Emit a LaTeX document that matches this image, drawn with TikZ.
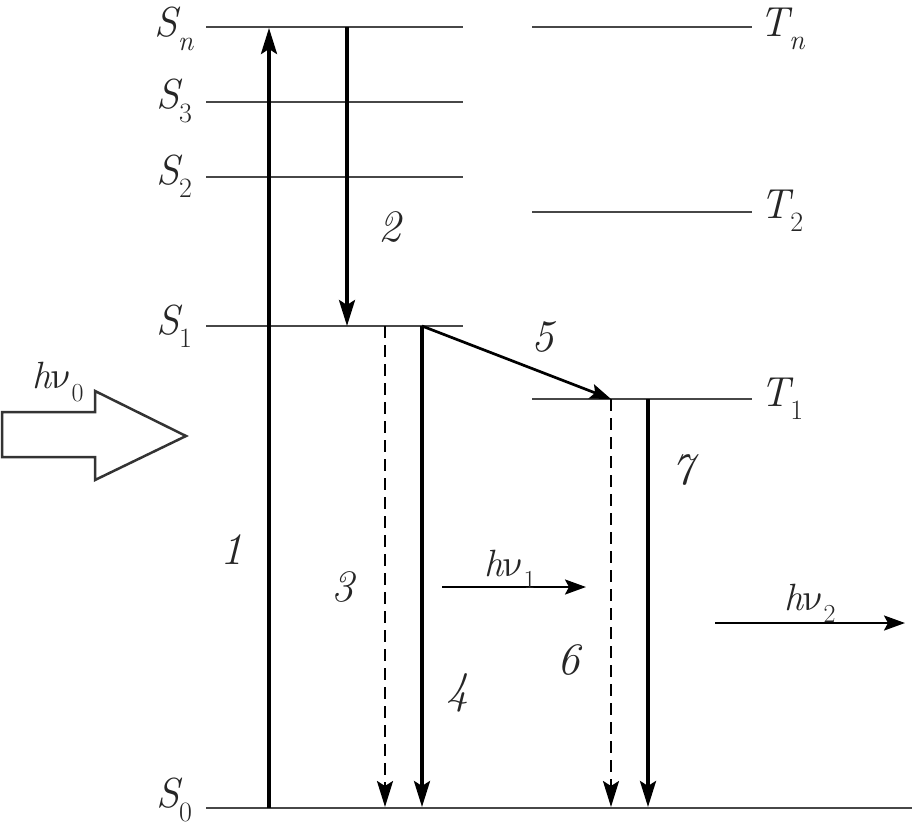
\documentclass[tikz,border=0pt]{standalone}
\usepackage{unicode-math}
\usetikzlibrary{arrows.meta}
\newcommand{\lowsub}[2][28]{\raisebox{-0.32em}{\fontsize{#1}{#1}\selectfont #2}}
\begin{document}
\begin{tikzpicture}[x=1pt,y=-1pt,
  level/.style={line width=2.9pt, draw=black!72},
  trans/.style={line width=3.5pt, -{Stealth[length=26pt,width=16pt,inset=5pt]}},
  dtrans/.style={trans, dash pattern=on 12pt off 7pt},
  photon/.style={line width=2.4pt, -{Stealth[length=21pt,width=15pt,inset=4pt]}},
  lbl/.style={font=\fontsize{42}{44}\selectfont\itshape, inner sep=0pt, text=black!85},
  num/.style={font=\fontsize{45}{48}\selectfont\itshape, inner sep=0pt, text=black!85},
  hlbl/.style={font=\fontsize{38}{40}\selectfont, inner sep=0pt, text=black!85},
  ]
\useasboundingbox (0,0) rectangle (912,828);
% levels
\coordinate (sna) at (206,27);  \coordinate (snb) at (463,27);
\coordinate (s3a) at (206,102); \coordinate (s3b) at (463,102);
\coordinate (s2a) at (206,177); \coordinate (s2b) at (463,177);
\coordinate (s1a) at (206,326); \coordinate (s1b) at (463,326);
\coordinate (s0a) at (206,808); \coordinate (s0b) at (912,808);
\coordinate (tna) at (532,27);  \coordinate (tnb) at (752,27);
\coordinate (t2a) at (532,212); \coordinate (t2b) at (752,212);
\coordinate (t1a) at (532,399); \coordinate (t1b) at (752,399);
\foreach \a/\b in {sna/snb,s3a/s3b,s2a/s2b,s1a/s1b,s0a/s0b,tna/tnb,t2a/t2b,t1a/t1b}
  \draw[level] (\a) -- (\b);
% level labels
\node[lbl] (lSn) at (174,29) {S\lowsub{\textit{n}}};
\node[lbl] (lS3) at (174,101) {S\lowsub{\upshape 3}};
\node[lbl] (lS2) at (174,176) {S\lowsub{\upshape 2}};
\node[lbl] (lS1) at (174,326) {S\lowsub{\upshape 1}};
\node[lbl] (lS0) at (174,800) {S\lowsub{\upshape 0}};
\node[lbl] (lTn) at (782,29) {T\lowsub{\textit{n}}};
\node[lbl] (lT2) at (782,211) {T\lowsub{\upshape 2}};
\node[lbl] (lT1) at (782,399) {T\lowsub{\upshape 1}};
% transition endpoints
\coordinate (a1s) at (269,808); \coordinate (a1e) at (269,28);
\coordinate (a2s) at (347,27);  \coordinate (a2e) at (347,326);
\coordinate (a3s) at (385,326); \coordinate (a3e) at (385,807);
\coordinate (a4s) at (422,326); \coordinate (a4e) at (422,807);
\coordinate (a5e) at (611,399);
\coordinate (a6s) at (611,399); \coordinate (a6e) at (611,807);
\coordinate (a7s) at (648,399); \coordinate (a7e) at (648,807);
\draw[trans] (a1s) -- (a1e);
\draw[trans] (a2s) -- (a2e);
\draw[dtrans, line width=2.5pt] (a3s) -- (a3e);
\draw[trans] (a4s) -- (a4e);
\draw[photon, line width=2.7pt] (a4s) -- (a5e);
\draw[dtrans, line width=2.5pt] (a6s) -- (a6e);
\draw[trans] (a7s) -- (a7e);
% numbers
\node[num] (n1) at (232,550) {1};
\node[num] (n2) at (390,227) {2};
\node[num] (n3) at (343,587) {3};
\node[num] (n4) at (458,693) {4};
\node[num] (n5) at (543,337) {5};
\node[num] (n6) at (569,660) {6};
\node[num] (n7) at (683,470) {7};
% incoming light
\draw[line width=2.5pt, draw=black!80, line join=miter] (2,412) -- (95,412) -- (95,391) -- (186,436) -- (95,480) -- (95,457) -- (2,457) -- cycle;
\node[hlbl] (hv0) at (58,382) {\textit{h}$\upnu$\lowsub[26]{0}};
% emitted photons
\coordinate (p1s) at (442,587); \coordinate (p1e) at (586,587);
\coordinate (p2s) at (715,623); \coordinate (p2e) at (905,623);
\draw[photon] (p1s) -- (p1e);
\draw[photon] (p2s) -- (p2e);
\node[hlbl] (hv1) at (510,569) {\textit{h}$\upnu$\lowsub[26]{1}};
\node[hlbl] (hv2) at (810,603) {\textit{h}$\upnu$\lowsub[26]{2}};
\end{tikzpicture}
\end{document}
